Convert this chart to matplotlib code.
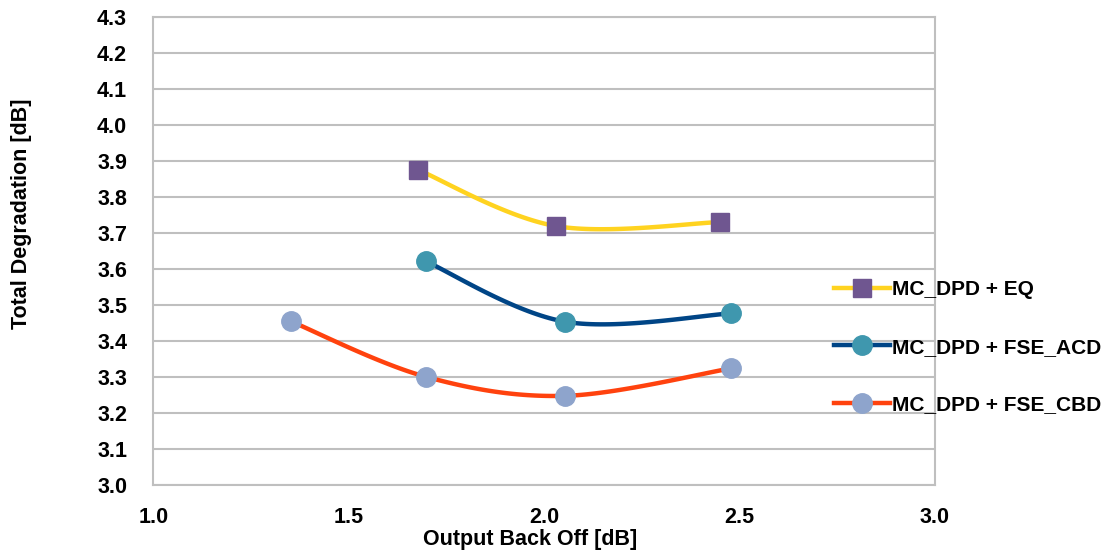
import numpy as np
import matplotlib.pyplot as plt
from matplotlib.lines import Line2D

plt.rcParams['font.family'] = ['Liberation Sans', 'DejaVu Sans']
plt.rcParams['font.weight'] = 'bold'

# data
eq_x = [1.678, 2.030, 2.449]
eq_y = [3.876, 3.720, 3.731]
acd_x = [1.697, 2.054, 2.477]
acd_y = [3.622, 3.454, 3.477]
cbd_x = [1.352, 1.697, 2.054, 2.477]
cbd_y = [3.455, 3.301, 3.248, 3.324]
labels = ['MC_DPD + EQ', 'MC_DPD + FSE_ACD', 'MC_DPD + FSE_CBD']

line_cols = ['#FFD320', '#004586', '#FF420E']
mark_cols = ['#6F5690', '#3F97AE', '#8EA4CC']
markers = ['s', 'o', 'o']


def smooth(xs, ys, n=40):
    # excel-like smoothed line: cubic bezier with catmull-rom control points
    p = np.column_stack([xs, ys]).astype(float)
    out = [p[:1]]
    for i in range(len(p) - 1):
        p0 = p[i - 1] if i > 0 else p[i]
        p3 = p[i + 2] if i + 2 < len(p) else p[i + 1]
        c1 = p[i] + (p[i + 1] - p0) / 6
        c2 = p[i + 1] - (p3 - p[i]) / 6
        t = np.linspace(0, 1, n)[1:, None]
        seg = ((1 - t) ** 3) * p[i] + 3 * ((1 - t) ** 2) * t * c1 + 3 * (1 - t) * t ** 2 * c2 + t ** 3 * p[i + 1]
        out.append(seg)
    q = np.vstack(out)
    return q[:, 0], q[:, 1]


fig, ax = plt.subplots(figsize=(11.17, 5.55), dpi=100)
fig.subplots_adjust(left=0.1374, right=0.837, top=0.9685, bottom=0.1261)

fs = 15.5
series = [(eq_x, eq_y), (acd_x, acd_y), (cbd_x, cbd_y)]
handles = []
for (xs, ys), lc, mc, m, lab in zip(series, line_cols, mark_cols, markers, labels):
    sx, sy = smooth(xs, ys)
    ax.plot(sx, sy, color=lc, lw=3.2, zorder=3, solid_capstyle='round')
    ms = 13 if m == 's' else 14
    ax.plot(xs, ys, ls='none', marker=m, ms=ms, mfc=mc, mec=mc, zorder=4)
    handles.append(Line2D([], [], color=lc, lw=3.2, marker=m, ms=ms, mfc=mc, mec=mc, label=lab))

ax.set_xlim(1.0, 3.0)
ax.set_ylim(3.0, 4.3)
ax.set_xticks(np.arange(1.0, 3.01, 0.5))
ax.set_yticks(np.arange(3.0, 4.301, 0.1))
ax.xaxis.set_major_formatter(plt.FormatStrFormatter('%.1f'))
ax.yaxis.set_major_formatter(plt.FormatStrFormatter('%.1f'))
ax.tick_params(axis='y', length=0, labelsize=fs, pad=19)
ax.tick_params(axis='x', length=0, labelsize=fs, pad=16)
for lab in ax.get_xticklabels() + ax.get_yticklabels():
    lab.set_fontweight('bold')

ax.grid(axis='y', color='#BFBFBF', lw=1.5)
ax.set_axisbelow(True)
for s in ax.spines.values():
    s.set_color('#BFBFBF')
    s.set_linewidth(1.5)

ax.set_xlabel('Output Back Off [dB]', fontsize=fs, fontweight='bold')
ax.set_ylabel('Total Degradation [dB]', fontsize=fs, fontweight='bold')
ax.xaxis.set_label_coords(0.482, -0.094)
ax.yaxis.set_label_coords(-0.156, 0.58)

leg = ax.legend(handles=handles, loc='center left', bbox_to_anchor=(0.86, 0.295),
                frameon=False, fontsize=15, handlelength=2.7, handletextpad=0.1,
                labelspacing=1.85, borderaxespad=0)
for t in leg.get_texts():
    t.set_fontweight('bold')

fig.savefig('out.png', dpi=100)
